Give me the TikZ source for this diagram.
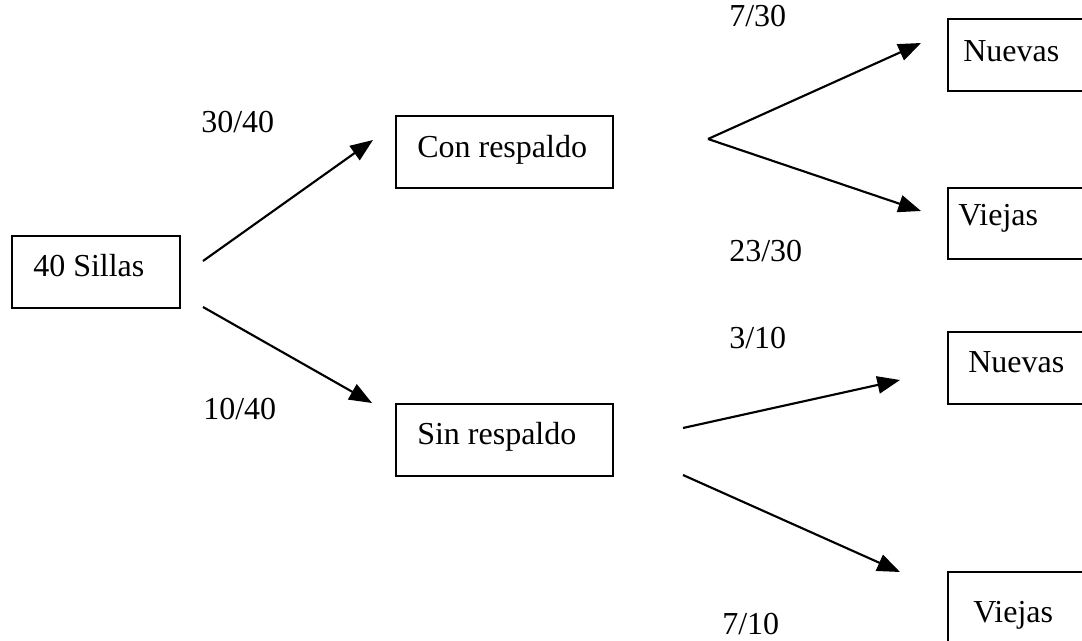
\documentclass[tikz,border=0pt]{standalone}
\usepackage{fontspec}
\setmainfont{Liberation Serif}
\usetikzlibrary{arrows.meta}
\begin{document}
\begin{tikzpicture}[x=0.75pt,y=-0.75pt,
  box/.style={draw=black,line width=1.5pt,rectangle,inner sep=0pt,minimum height=54pt},
  txt/.style={inner sep=0pt,anchor=base west,font=\fontsize{24}{28}\selectfont},
  arr/.style={line width=1.6pt,-{Triangle[length=17pt,width=13pt]}}]
\useasboundingbox (0,0) rectangle (1082,641);
\clip (0,0) rectangle (1082,641);
% boxes
\node[box,minimum width=126pt] (sillas) at (96,272) {};
\node[box,minimum width=162.75pt] (con) at (504.5,152) {};
\node[box,minimum width=162.75pt] (sin) at (504.5,440) {};
\node[box,minimum width=129pt] (nuevasA) at (1034,55) {};
\node[box,minimum width=129pt,minimum height=53pt] (viejasA) at (1034,223.5) {};
\node[box,minimum width=129pt] (nuevasB) at (1034,368) {};
\node[box,minimum width=129pt] (viejasB) at (1034,608) {};
% box texts
\node[txt] (tsillas) at (33,277) {40 Sillas};
\node[txt] (tcon) at (417,158) {Con respaldo};
\node[txt] (tsin) at (417,445) {Sin respaldo};
\node[txt] (tnuevasA) at (963,62) {Nuevas};
\node[txt] (tviejasA) at (958,226) {Viejas};
\node[txt] (tnuevasB) at (968,373) {Nuevas};
\node[txt] (tviejasB) at (973,622) {Viejas};
% probabilities
\node[txt] (p1) at (201,133) {30/40};
\node[txt] (p2) at (203,420) {10/40};
\node[txt] (p3) at (729,27) {7/30};
\node[txt] (p4) at (729,262) {23/30};
\node[txt] (p5) at (729,349) {3/10};
\node[txt] (p6) at (722,634) {7/10};
% connector ends
\coordinate (s1) at (203,261);
\coordinate (e1) at (373,140);
\coordinate (s2) at (203,307);
\coordinate (e2) at (372,403);
\coordinate (v) at (708,139);
\coordinate (e3) at (921,43);
\coordinate (e4) at (921,211);
\coordinate (s5) at (683,428);
\coordinate (e5) at (900,380);
\coordinate (s6) at (683,475);
\coordinate (e6) at (900,572);
\draw[arr] (s1) -- (e1);
\draw[arr] (s2) -- (e2);
\draw[arr] (v) -- (e3);
\draw[arr] (v) -- (e4);
\draw[arr] (s5) -- (e5);
\draw[arr] (s6) -- (e6);
\end{tikzpicture}
\end{document}
